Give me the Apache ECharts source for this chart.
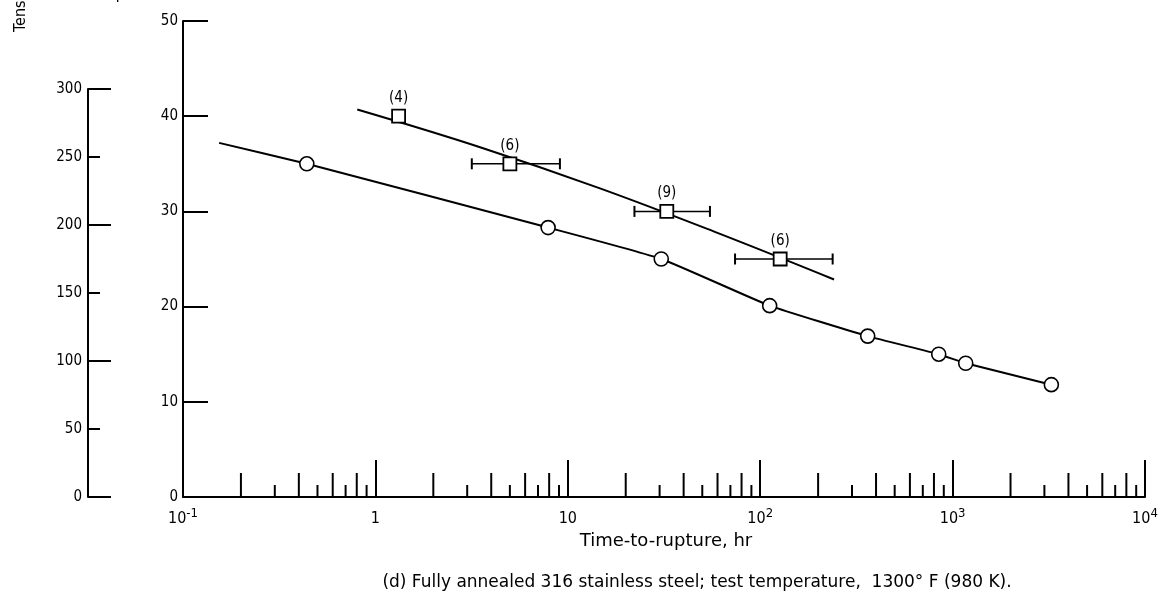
<!DOCTYPE html>
<html>
<head>
<meta charset="utf-8">
<script src="https://cdn.jsdelivr.net/npm/echarts@6/dist/echarts.min.js"></script>
<style>
  html, body { margin: 0; padding: 0; background: #fff; }
  #chart { width: 1170px; height: 597px; }
</style>
</head>
<body>
<div id="chart"></div>
<script>
// open circles + fitted curve (lower)
const circleHours = [0.44, 7.9, 30.6, 112, 362, 847, 1170, 3260]
const circleKsi = [35.0, 28.3, 25.0, 20.1, 16.9, 15.0, 14.05, 11.8]
const lowerCurveHours = [0.154, 0.44, 7.9, 30.6, 112, 362, 847, 1170, 3260]
const lowerCurveKsi = [37.2, 35.0, 28.3, 25.0, 20.1, 16.9, 15.0, 14.05, 11.8]

// open squares with scatter bands (upper)
const squareHours = [1.32, 5.0, 32.7, 127]
const squareKsi = [40, 35, 30, 25]
const squareLowHours = [null, 3.17, 22.2, 74]
const squareHighHours = [null, 9.1, 54.8, 238]
const squareCounts = ['(4)', '(6)', '(9)', '(6)']
const upperCurveHours = [0.805, 3.5, 14.7, 61.8, 242]
const upperCurveKsi = [40.7, 36.74, 32.42, 27.64, 22.85]

// log ruler marks along the time axis (decades come from the axis ticks)
const rulerHours = [
  0.2, 0.3, 0.4, 0.5, 0.6, 0.7, 0.8, 0.9,
  2, 3, 4, 5, 6, 7, 8, 9,
  20, 30, 40, 50, 60, 70, 80, 90,
  200, 300, 400, 500, 600, 700, 800, 900,
  2000, 3000, 4000, 5000, 6000, 7000, 8000, 9000
]
const decadeLabels = { '-1': ['10', '-1'], '0': ['1', ''], '1': ['10', ''], '2': ['10', '2'], '3': ['10', '3'], '4': ['10', '4'] }

const NUM_FONT = '"DejaVu Sans Condensed", "Liberation Sans Narrow", "DejaVu Sans", sans-serif'
const TEXT_FONT = '"DejaVu Sans", "Liberation Sans", sans-serif'
const BLACK = '#000'

const chart = echarts.init(document.getElementById('chart'), null, { renderer: 'canvas' })

const curveLine = { color: BLACK, width: 2 }

const option = {
  animation: false,
  backgroundColor: '#fff',
  textStyle: { fontFamily: NUM_FONT, color: BLACK },
  graphic: [
    {
      type: 'text', x: 13, y: 32, rotation: Math.PI / 2,
      style: { text: 'Tensile stress, MN/m²', font: '16px ' + NUM_FONT, fill: BLACK, align: 'left', verticalAlign: 'top' }
    },
    {
      type: 'text', x: 117, y: 2, rotation: Math.PI / 2,
      style: { text: 'Tensile stress, ksi', font: '16px ' + NUM_FONT, fill: BLACK, align: 'left', verticalAlign: 'top' }
    },
    {
      type: 'text', x: 697, y: 583,
      style: {
        text: '(d) Fully annealed 316 stainless steel; test temperature,  1300° F (980 K).',
        font: '17px ' + TEXT_FONT, fill: BLACK, align: 'center', verticalAlign: 'middle'
      }
    }
  ],
  grid: [
    { left: 183, right: 25, top: 21, height: 476 },
    { left: 88, width: 1, top: 89, height: 408 }
  ],
  xAxis: [
    {
      type: 'log',
      logBase: 10,
      min: 0.1,
      max: 10000,
      gridIndex: 0,
      name: 'Time-to-rupture, hr',
      nameLocation: 'middle',
      nameGap: 30,
      nameTextStyle: { fontFamily: TEXT_FONT, fontSize: 18, color: BLACK, padding: [0, 0, 0, 4] },
      axisLine: { show: true, lineStyle: { color: BLACK, width: 2 } },
      axisTick: { show: true, inside: true, length: 37, lineStyle: { color: BLACK, width: 2 } },
      splitLine: { show: false },
      minorTick: { show: false },
      axisLabel: {
        margin: 10,
        color: BLACK,
        formatter: function (v) {
          const p = decadeLabels[String(Math.round(Math.log10(v)))]
          return p[1] ? '{b|' + p[0] + '}{s|' + p[1] + '}' : '{b|' + p[0] + '}'
        },
        rich: {
          b: { fontFamily: NUM_FONT, fontSize: 16, lineHeight: 24, color: BLACK },
          s: { fontFamily: NUM_FONT, fontSize: 13, lineHeight: 11, verticalAlign: 'top', color: BLACK }
        }
      }
    },
    { type: 'value', gridIndex: 1, show: false, min: 0, max: 1 }
  ],
  yAxis: [
    {
      type: 'value',
      gridIndex: 0,
      position: 'left',
      min: 0,
      max: 50,
      interval: 10,
      axisLine: { show: true, lineStyle: { color: BLACK, width: 2 } },
      axisTick: { show: true, inside: true, length: 25, lineStyle: { color: BLACK, width: 2 } },
      splitLine: { show: false },
      axisLabel: { margin: 5, fontFamily: NUM_FONT, fontSize: 15, color: BLACK }
    },
    {
      type: 'value',
      gridIndex: 1,
      position: 'left',
      min: 0,
      max: 300,
      interval: 50,
      axisLine: { show: true, lineStyle: { color: BLACK, width: 2 } },
      axisTick: { show: true, inside: true, length: 12, lineStyle: { color: BLACK, width: 2 } },
      splitLine: { show: false },
      axisLabel: { margin: 6, fontFamily: NUM_FONT, fontSize: 15, color: BLACK }
    },
    {
      type: 'value',
      gridIndex: 1,
      position: 'left',
      min: 0,
      max: 300,
      interval: 100,
      axisLine: { show: false },
      axisTick: { show: true, inside: true, length: 23, lineStyle: { color: BLACK, width: 2 } },
      splitLine: { show: false },
      axisLabel: { show: false }
    }
  ],
  series: [
    {
      // ruler marks: even mantissa medium, odd short
      type: 'custom',
      xAxisIndex: 0,
      yAxisIndex: 0,
      silent: true,
      encode: { x: 0, y: 1 },
      data: rulerHours.map(h => [h, 0]),
      renderItem: function (params, api) {
        const h = api.value(0)
        const m = Math.round(h / Math.pow(10, Math.floor(Math.log10(h) + 1e-9)))
        const len = m % 2 === 0 ? 24 : 12
        const p = api.coord([h, 0])
        return {
          type: 'line',
          shape: { x1: p[0], y1: p[1], x2: p[0], y2: p[1] - len },
          style: { stroke: BLACK, lineWidth: 2 }
        }
      }
    },
    {
      type: 'line',
      smooth: 0.15,
      symbol: 'none',
      lineStyle: curveLine,
      z: 2,
      data: lowerCurveHours.map((h, i) => [h, lowerCurveKsi[i]])
    },
    {
      type: 'line',
      smooth: 0.4,
      symbol: 'none',
      lineStyle: curveLine,
      z: 2,
      data: upperCurveHours.map((h, i) => [h, upperCurveKsi[i]])
    },
    {
      // scatter bands on the squares
      type: 'custom',
      z: 3,
      encode: { x: [0, 1], y: 2 },
      data: squareKsi.map((k, i) => [squareLowHours[i], squareHighHours[i], k]).filter(d => d[0] != null),
      renderItem: function (params, api) {
        const lo = api.coord([api.value(0), api.value(2)])
        const hi = api.coord([api.value(1), api.value(2)])
        const cap = 5.5
        const st = { stroke: BLACK, lineWidth: 2 }
        return {
          type: 'group',
          children: [
            { type: 'line', shape: { x1: lo[0], y1: lo[1], x2: hi[0], y2: hi[1] }, style: { stroke: BLACK, lineWidth: 1.5 } },
            { type: 'line', shape: { x1: lo[0], y1: lo[1] - cap, x2: lo[0], y2: lo[1] + cap }, style: st },
            { type: 'line', shape: { x1: hi[0], y1: hi[1] - cap, x2: hi[0], y2: hi[1] + cap }, style: st }
          ]
        }
      }
    },
    {
      type: 'scatter',
      symbol: 'circle',
      symbolSize: 14,
      z: 5,
      itemStyle: { color: '#fff', borderColor: BLACK, borderWidth: 1.6, opacity: 1 },
      data: circleHours.map((h, i) => [h, circleKsi[i]])
    },
    {
      type: 'scatter',
      symbol: 'rect',
      symbolSize: 13,
      z: 5,
      itemStyle: { color: '#fff', borderColor: BLACK, borderWidth: 1.8, opacity: 1 },
      label: {
        show: true,
        position: 'top',
        distance: 3,
        fontFamily: NUM_FONT,
        fontSize: 15,
        color: BLACK,
        formatter: p => squareCounts[p.dataIndex]
      },
      data: squareHours.map((h, i) => [h, squareKsi[i]])
    }
  ]
}

chart.setOption(option)
</script>
</body>
</html>
